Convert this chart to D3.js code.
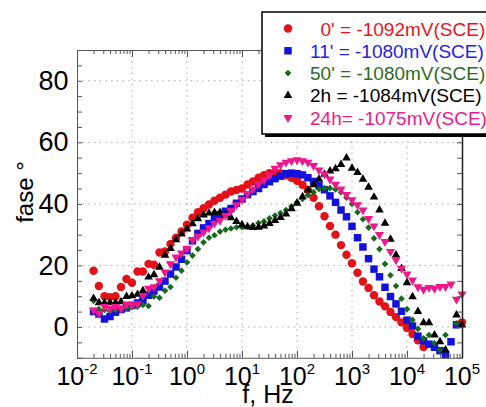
<!DOCTYPE html>
<html>
<head>
<meta charset="utf-8">
<script src="https://cdn.jsdelivr.net/npm/d3@7"></script>
<style>
  body { margin: 0; background: #fff; }
  svg { display: block; font-family: "Liberation Sans", Arial, sans-serif; }
</style>
</head>
<body>
<div id="visSpace"></div>
<script>
//Measurement frequencies (Hz), shared by every series
var freqHz = [0.02, 0.025, 0.0316, 0.0398, 0.0501, 0.0631, 0.0794, 0.1, 0.126, 0.158,
              0.2, 0.251, 0.316, 0.398, 0.501, 0.631, 0.794, 1, 1.26, 1.58,
              2, 2.51, 3.16, 3.98, 5.01, 6.31, 7.94, 10, 12.6, 15.8,
              20, 25.1, 31.6, 39.8, 50.1, 63.1, 79.4, 100, 126, 158,
              200, 251, 316, 398, 501, 631, 794, 1000, 1260, 1580,
              2000, 2510, 3160, 3980, 5010, 6310, 7940, 10000, 12600, 15800,
              20000, 25100, 31600, 39800, 50100, 63100, 79400, 100000];

//Phase angle (degrees) for each immersion time, null = no point
var phase0 = [18.3, 13.3, 10, 9.7, 10, 13, 15.6, 14.4, 18, 18,
              20.5, 20.2, 24.2, 24.5, 27, 29, 31, 33.2, 35.5, 37.3,
              38.6, 39.8, 41, 42, 43, 44, 44.5, 45, 46.3, 47.3,
              48.5, 49.3, 50, 50.2, 50, 49.3, 48.5, 47.5, 46.2, 44.5,
              42, 39.2, 36, 32.8, 30, 26.6, 23.5, 20.7, 17.6, 14.8,
              12.7, 10.3, 8.3, 6.7, 4.9, 3.2, 1.5, -0.3, -2.3, -4.3,
              -6.5, null, null, null, null, null, null, 1.5];
var phase11 = [5, 4.2, 2.6, 3.4, 4.8, 5.7, 6.2, 7, 7.8, 8.6,
               10.3, 11.7, 13, 14.9, 17.2, 19.5, 22, 24.8, 28, 30.4,
               32.2, 33.6, 35.2, 36.5, 37.6, 38.5, 40.2, 41.6, 43, 44,
               45, 46.3, 47.2, 48.2, 49, 49.8, 50, 49.8, 49.4, 48.5,
               47.3, 45.9, 44.6, 42.6, 40.5, 38, 35.8, 32.7, 29, 26,
               22.2, 18.8, 16.3, 12.9, 9.9, 7.5, 5.1, 2.2, 0.3, -3,
               -4.5, -5.6, -6.6, -7.7, -9, -4.8, 0.7, null];
var phase50 = [8.5, 5.8, 5.5, 5.2, 5.5, 6, 6.2, 6.4, 6.6, 7.2,
               6.8, 9.9, 9.5, 11.8, 13, 16, 18.3, 21, 23.2, 25.3,
               27.5, 29, 29.8, 31, 31.6, 32, 32.4, 32.4, 32.6, 33,
               33.8, 34.3, 35.3, 36.2, 37, 38, 39.2, 40.5, 41.6, 42.8,
               43.8, 44.8, 45.1, 45.1, 44.7, 43.8, 42, 40, 37.3, 35,
               32.3, 28.8, 25.3, 20.5, 16.8, 13.3, 9.2, 5.8, 2.3, -0.6,
               -3.7, -2.6, -5.3, -7.5, -2.6, null, 1.2, null];
var phase2h = [9.3, 7.9, 7.9, 7.9, 7.9, 8.2, 9.9, 10.1, 10.6, 11.8,
               16.2, 17, 19.4, 23.3, 25.5, 28.3, 30.2, 31.8, 33.5, 35.2,
               36.4, 37, 37.2, 37.2, 36.3, 35.5, 34.3, 33.2, 32.6, 32.3,
               32.4, 32.8, 33.6, 34.6, 35.6, 36.7, 38.4, 40.2, 42.3, 44.5,
               46.2, 48, 49.6, 50.7, 51.4, 52.8, 54.9, 51.6, 50.2, 48,
               45.4, 42.2, 38, 33.7, 28.5, 23.4, 19, 14.4, 9.8, 5,
               1.4, 1.4, -2.6, -4.8, -7.5, null, 3.9, 0.6];
var phase24h = [5.5, 4.4, 6.6, 6, 6.6, 6, 7.4, 7.2, 7.5, 10.2,
                12.5, 13, 15, 17.8, 20.5, 22.7, 24, 25.5, 28.3, 29.4,
                30.8, 32.2, 33.7, 34.6, 36.2, 37.8, 39.7, 41.5, 43.3, 44.8,
                46.5, 47.7, 49.3, 51.5, 52.7, 53.5, 54, 54.3, 54, 53.5,
                52.4, 51, 49.7, 48, 46.3, 44.8, 43, 41.3, 39.7, 38,
                35.2, 32.8, 30, 27.7, 24.5, 21.8, 19, 17.2, 15.2, 13,
                12.2, 12.8, 12.5, 13.1, 13.1, 13.9, 9, 10.7];

//Legend labels
var seriesLabels = ["  0' = -1092mV(SCE)", "11' = -1080mV(SCE)", "50' = -1080mV(SCE)",
                    "2h = -1084mV(SCE)", "24h= -1075mV(SCE)"];
//Axis ticks
var decades = [-2, -1, 0, 1, 2, 3, 4, 5];
var yLabelTicks = [0, 20, 40, 60, 80];

var width = 486;
var height = 407;
var plot = {left: 77, right: 462, top: 50, bottom: 357.75};

var svg = d3.select("#visSpace")
            .append("svg")
            .attr("width", width)
            .attr("height", height);

var xScale = d3.scaleLog()
               .domain([0.01, 1e5])
               .range([plot.left, plot.right]);
var yScale = d3.scaleLinear()
               .domain([-10, 90])
               .range([plot.bottom, plot.top]);

//Series styles: colour and marker
var series = [
  {values: phase0,  color: "#e31218", text: "#e8141c", shape: d3.symbolCircle,   size: 56, rot: 0},
  {values: phase11, color: "#1212dc", text: "#2323e0", shape: d3.symbolSquare,   size: 56, rot: 0},
  {values: phase50, color: "#176a1c", text: "#2f6a1e", shape: d3.symbolSquare,   size: 22, rot: 45},
  {values: phase2h, color: "#000000", text: "#000000", shape: d3.symbolTriangle, size: 32, rot: 0},
  {values: phase24h, color: "#f0168c", text: "#ee1a8a", shape: d3.symbolTriangle, size: 36, rot: 180}
];

//Dotted grid
var grid = svg.append("g")
              .attr("stroke", "#9a9a9a")
              .attr("stroke-width", 1)
              .attr("stroke-dasharray", "1.2,4.5");
grid.selectAll("line.v")
    .data(decades.slice(1, -1))
    .enter()
    .append("line")
    .attr("x1", function(d){return xScale(Math.pow(10, d));})
    .attr("x2", function(d){return xScale(Math.pow(10, d));})
    .attr("y1", plot.top)
    .attr("y2", plot.bottom);
grid.selectAll("line.h")
    .data(yLabelTicks)
    .enter()
    .append("line")
    .attr("x1", plot.left)
    .attr("x2", plot.right)
    .attr("y1", function(d){return yScale(d);})
    .attr("y2", function(d){return yScale(d);});

//Markers
var marks = svg.append("g");
series.forEach(function(s){
  var sym = d3.symbol().type(s.shape).size(s.size);
  var pts = freqHz.map(function(f, i){return {f: f, v: s.values[i]};})
                  .filter(function(d){return d.v !== null;});
  marks.append("g")
       .selectAll("path")
       .data(pts)
       .enter()
       .append("path")
       .attr("d", sym)
       .attr("fill", s.color)
       .attr("transform", function(d){
         return "translate(" + xScale(d.f) + "," + yScale(d.v) + ") rotate(" + s.rot + ")";
       });
});

//Log ticks 1..9 per decade
var logTicks = [];
for (var k = -2; k < 5; ++k) {
  for (var m = 1; m < 10; ++m) logTicks.push(m * Math.pow(10, k));
}
logTicks.push(1e5);
function isDecade(d){ return Math.abs(Math.log10(d) - Math.round(Math.log10(d))) < 1e-6; }

var axisColor = "#555";
function styleAxis(g){
  g.select(".domain").attr("stroke", axisColor);
  g.selectAll(".tick line").attr("stroke", axisColor);
}

//Bottom and top axes
var xBottom = svg.append("g")
                 .attr("transform", "translate(0," + plot.bottom + ")")
                 .call(d3.axisBottom(xScale).tickValues(logTicks).tickFormat("").tickSizeOuter(0));
xBottom.selectAll(".tick line").attr("y2", function(d){return isDecade(d) ? -7 : -4;});
styleAxis(xBottom);
var xTop = svg.append("g")
              .attr("transform", "translate(0," + plot.top + ")")
              .call(d3.axisTop(xScale).tickValues(logTicks).tickFormat("").tickSizeOuter(0));
xTop.selectAll(".tick line").attr("y2", function(d){return isDecade(d) ? 7 : 4;});
styleAxis(xTop);

//Left and right axes
var yTicks = d3.range(-10, 91, 5);
var yLeft = svg.append("g")
               .attr("transform", "translate(" + plot.left + ",0)")
               .call(d3.axisLeft(yScale).tickValues(yTicks).tickSize(-5).tickSizeOuter(0)
                       .tickPadding(8.5)
                       .tickFormat(function(d){return yLabelTicks.indexOf(d) >= 0 ? d : "";}));
yLeft.selectAll("text").attr("font-size", "27px").attr("font-family", "Liberation Sans, Arial, sans-serif")
     .attr("fill", "#000");
styleAxis(yLeft);
var yRight = svg.append("g")
                .attr("transform", "translate(" + plot.right + ",0)")
                .call(d3.axisRight(yScale).tickValues(yTicks).tickSize(-5).tickSizeOuter(0).tickFormat(""));
styleAxis(yRight);
yRight.select(".domain").attr("stroke", "#222").attr("stroke-width", 1.5);

//Decade labels 10^n
var xLabels = svg.append("g")
                 .attr("font-size", "25px")
                 .attr("text-anchor", "middle");
var lab = xLabels.selectAll("text")
                 .data(decades)
                 .enter()
                 .append("text")
                 .attr("x", function(d){return xScale(Math.pow(10, d));})
                 .attr("y", 385);
lab.append("tspan").text("10");
lab.append("tspan")
   .attr("dy", -11)
   .attr("font-size", "15px")
   .text(function(d){return d;});

//Axis titles
svg.append("text")
   .attr("x", 268)
   .attr("y", 403)
   .attr("text-anchor", "middle")
   .attr("font-size", "25px")
   .text("f, Hz");
svg.append("text")
   .attr("transform", "translate(33,192) rotate(-90)")
   .attr("text-anchor", "middle")
   .attr("font-size", "24px")
   .text("fase °");

//Legend box with drop shadow
var legendPos = {x: 262, y: 12, w: 232, h: 122};
var legendGroup = svg.append("g");
legendGroup.append("rect")
           .attr("x", legendPos.x + 3)
           .attr("y", legendPos.y + 3)
           .attr("width", legendPos.w)
           .attr("height", legendPos.h)
           .attr("fill", "#000");
legendGroup.append("rect")
           .attr("x", legendPos.x)
           .attr("y", legendPos.y)
           .attr("width", legendPos.w)
           .attr("height", legendPos.h)
           .attr("fill", "#fff")
           .attr("stroke", "#000")
           .attr("stroke-width", 1.5);
var rows = legendGroup.selectAll("g.row")
                      .data(series)
                      .enter()
                      .append("g")
                      .attr("transform", function(d, i){return "translate(0," + (28.5 + i * 22.3) + ")";});
rows.append("path")
    .attr("d", function(d){return d3.symbol().type(d.shape).size(d.size)();})
    .attr("fill", function(d){return d.color;})
    .attr("transform", function(d){return "translate(" + (legendPos.x + 26) + ",0) rotate(" + d.rot + ")";});
rows.append("text")
    .attr("x", 310)
    .attr("y", 7)
    .attr("font-size", "19px")
    .style("white-space", "pre")
    .attr("fill", function(d){return d.text;})
    .text(function(d, i){return seriesLabels[i];});
</script>
</body>
</html>
